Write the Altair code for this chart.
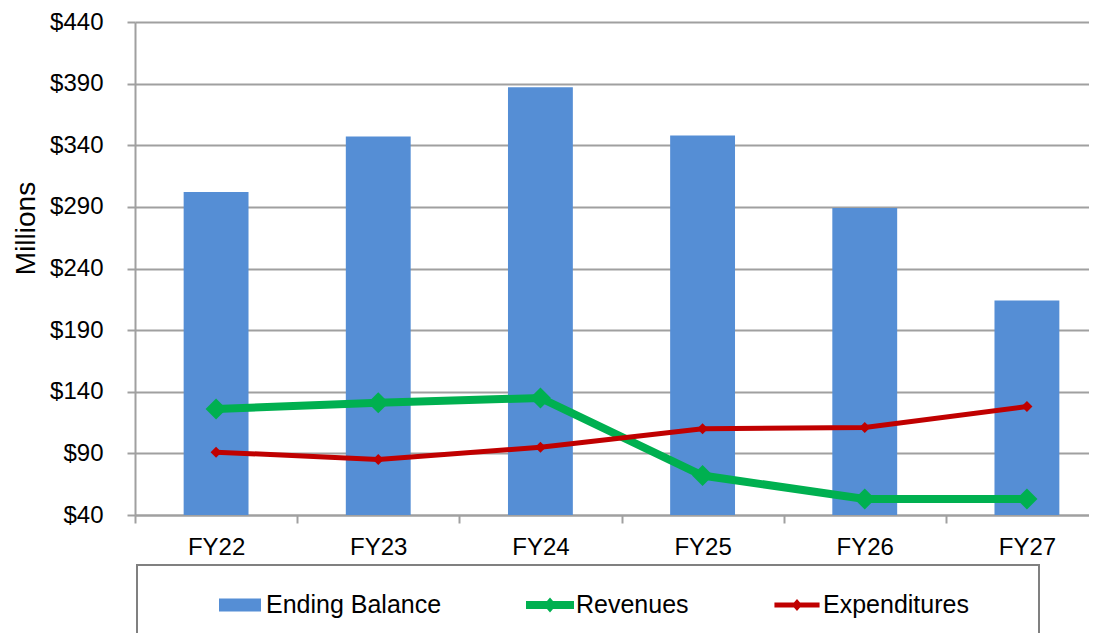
import altair as alt
import pandas as pd

# ---- data ----
fiscal_years = ["FY22", "FY23", "FY24", "FY25", "FY26", "FY27"]
ending_balance = [302, 347, 387, 348, 289, 214]
revenues = [126, 131, 135, 72, 53, 53]
expenditures = [91, 85, 95, 110, 111, 128]
y_ticks = [40, 90, 140, 190, 240, 290, 340, 390, 440]
series_names = ["Ending Balance", "Revenues", "Expenditures"]
series_colors = ["#558ED5", "#00B050", "#C00000"]

FONT = "Liberation Sans"
GRAY = "#A0A0A0"

bars_df = pd.DataFrame({"fy": fiscal_years, "value": ending_balance, "series": series_names[0]})
rev_df = pd.DataFrame({"fy": fiscal_years, "value": revenues, "series": series_names[1]})
exp_df = pd.DataFrame({"fy": fiscal_years, "value": expenditures, "series": series_names[2]})

# legend symbol shapes (unit box -1..1)
RECT_PATH = "M-0.875,-0.27H0.875V0.27H-0.875Z"
GREEN_PATH = "M-1,-0.167H-0.125L0,-0.31L0.125,-0.167H1V0.167H0.125L0,0.31L-0.125,0.167H-1Z"
RED_PATH = "M-0.94,-0.1H-0.126L0,-0.25L0.126,-0.1H0.94V0.1H0.126L0,0.25L-0.126,0.1H-0.94Z"
shape_expr = (
    f"datum.value === '{series_names[0]}' ? '{RECT_PATH}' : "
    f"datum.value === '{series_names[1]}' ? '{GREEN_PATH}' : '{RED_PATH}'"
)
fill_expr = (
    f"datum.value === '{series_names[0]}' ? '{series_colors[0]}' : "
    f"datum.value === '{series_names[1]}' ? '{series_colors[1]}' : '{series_colors[2]}'"
)
# invisible (non-whitespace) blank cells widen the frame on the right
BLANKS = "\u2800" * 3
pad_expr = "datum.value === '" + series_names[2] + "' ? datum.label + '" + BLANKS + "' : datum.label"

legend = alt.Legend(
    title="\u00a0",
    titleOrient="left",
    titleFontSize=1,
    titlePadding=63,
    orient="none",
    legendX=2,
    legendY=543,
    direction="horizontal",
    strokeColor="#808080",
    padding=16,
    symbolSize=2304,
    symbolType=alt.ExprRef(shape_expr),
    symbolFillColor=alt.ExprRef(fill_expr),
    symbolStrokeWidth=0,
    symbolOpacity=1,
    labelFont=FONT,
    labelFontSize=25,
    labelColor="black",
    labelOffset=2,
    labelLimit=600,
    columnPadding=84,
    labelExpr=pad_expr,
)

color_scale = alt.Scale(domain=series_names, range=series_colors)

x_enc = alt.X(
    "fy:N",
    sort=fiscal_years,
    scale=alt.Scale(paddingInner=0, paddingOuter=0),
    axis=alt.Axis(
        title=None,
        labelAngle=0,
        tickBand="extent",
        labelFont=FONT,
        labelFontSize=24,
        labelColor="black",
        labelPadding=12,
        domainColor=GRAY,
        domainWidth=2,
        tickColor=GRAY,
        tickWidth=2,
        tickSize=8,
        grid=False,
    ),
)

y_scale = alt.Scale(domain=[y_ticks[0], y_ticks[-1]], nice=False, zero=False)
y_enc = alt.Y(
    "value:Q",
    scale=y_scale,
    axis=alt.Axis(
        values=y_ticks,
        labelExpr="'$' + datum.value",
        title="Millions",
        titleFont=FONT,
        titleFontSize=28,
        titleFontWeight="normal",
        titleColor="black",
        titleAngle=270,
        titleAlign="center",
        titleBaseline="alphabetic",
        titleX=-101,
        titleY=206,
        labelFont=FONT,
        labelFontSize=24,
        labelColor="black",
        labelPadding=24,
        domainColor=GRAY,
        domainWidth=2,
        tickColor=GRAY,
        tickWidth=2,
        tickSize=8,
        gridColor=GRAY,
        gridWidth=2,
    ),
)

color_enc = alt.Color("series:N", scale=color_scale, legend=legend)

bars = alt.Chart(bars_df).mark_bar(opacity=1, width=alt.RelativeBandSize(0.4)).encode(
    x=x_enc, y=y_enc, y2=alt.datum(y_ticks[0]), color=color_enc
)
rev_line = alt.Chart(rev_df).mark_line(strokeWidth=8).encode(x=x_enc, y=y_enc, color=color_enc)
rev_pts = alt.Chart(rev_df).mark_point(shape="diamond", filled=True, size=441, opacity=1).encode(
    x=x_enc, y=y_enc, color=color_enc
)
exp_line = alt.Chart(exp_df).mark_line(strokeWidth=5).encode(x=x_enc, y=y_enc, color=color_enc)
exp_pts = alt.Chart(exp_df).mark_point(shape="diamond", filled=True, size=121, opacity=1).encode(
    x=x_enc, y=y_enc, color=color_enc
)

chart = (
    alt.layer(bars, rev_line, rev_pts, exp_line, exp_pts)
    .properties(
        width=973,
        height=493,
        autosize=alt.AutoSizeParams(type="none"),
        padding={"left": 127, "top": 14, "right": -19, "bottom": 118},
        background="white",
    )
    .configure_view(stroke=None)
    .configure_legend(strokeWidth=2)
)

chart.save("out.html", embed_options={"renderer": "svg", "actions": False})
